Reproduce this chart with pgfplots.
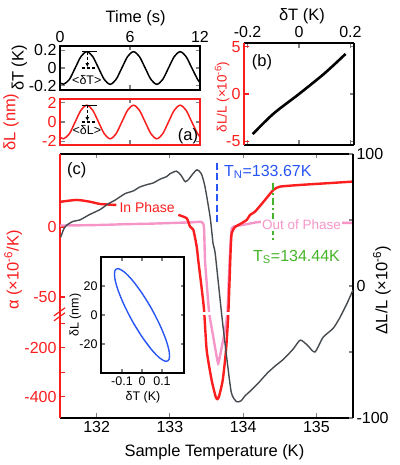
\documentclass[border=0pt]{standalone}
\usepackage{pgfplots}
\pgfplotsset{compat=1.18}
\usepackage{fontspec}
\setmainfont{Liberation Sans}
\usetikzlibrary{arrows.meta}

\definecolor{cred}{RGB}{250,30,30}
\definecolor{cpink}{RGB}{246,150,200}
\definecolor{cgray}{RGB}{70,75,80}
\definecolor{cblue}{RGB}{40,85,245}
\definecolor{cgreen}{RGB}{70,180,40}

\pgfplotsset{
  base/.style={
    scale only axis, anchor=south west,
    axis line style={line width=1.5pt},
    tick style={line width=1.1pt},
    tick align=inside, major tick length=4.5pt,
    tick label style={font=\fontsize{16}{18}\selectfont},
    label style={font=\fontsize{16.5}{19}\selectfont},
    xlabel style={anchor=center},
    ylabel style={anchor=center},
  },
  % broken alpha axis: below -62 the scale is squeezed
  brk/.style={y filter/.expression={y>-62 ? y : -62+(y+62)*0.175}},
}

\begin{document}
\begin{tikzpicture}
\useasboundingbox (0pt,0pt) rectangle (399pt,465pt);

% ---------- (c) left axis: alpha ----------
\begin{axis}[base,
  at={(60pt,47pt)}, width=293pt, height=264pt,
  xmin=131.5, xmax=135.5, ymin=-136.4, ymax=52.1,
  axis y line*=left, clip=false,
  xtick={132,133,134,135}, xticklabels={132,133,134,135},
  ytick={-121.15,-103.65,-86.15,-68.65,-50,0},
  yticklabels={-400,,-200,,-50,0},
  y axis line style={cred}, ytick style={cred}, yticklabel style={cred},
  ylabel={α (×10\textsuperscript{-6}/K)},
  ylabel style={cred, at={(axis description cs:-0.16,0.56)}},
  xlabel={Sample Temperature (K)},
  xlabel style={at={(axis description cs:0.527,-0.129)}},
]
% out of phase
\addplot[cpink, line width=2.4pt, smooth, tension=0.35, brk] table {
131.50 1.0
131.80 1.2
132.10 1.5
132.40 2.0
132.70 2.3
133.00 2.8
133.30 3.3
133.43 3.6
133.465 0
133.48 -24
133.51 -45
133.538 -62
133.585 -144
133.65 -255
133.66 -261
133.67 -255
133.743 -144
133.784 -62
133.81 -30
133.83 -10
133.845 -1
133.89 0.5
134.00 1.5
134.23 3.6
134.60 3.0
135.00 3.0
135.42 2.9
135.50 2.9
};
% in phase, left part
\addplot[cred, line width=2.4pt, smooth, tension=0.4, brk] table {
131.51 18
131.73 19.3
131.91 18
132.05 16.4
132.27 15.7
};
% in phase, right part
\addplot[cred, line width=2.4pt, smooth, tension=0.35, brk] table {
133.115 8.6
133.23 6.2
133.275 0.2
133.32 -2
133.366 -14
133.388 -24
133.43 -42
133.466 -59
133.503 -212
133.571 -334
133.625 -400
133.647 -410
133.67 -400
133.721 -334
133.766 -212
133.798 -62
133.83 -16
133.844 -4.5
133.889 0
133.957 2
134.049 5
134.094 8.6
134.162 10.9
134.299 19.3
134.412 26.4
134.503 28.8
134.777 30
135.141 31.2
135.50 32.4
};
\fill[white] (axis cs:133.42,-60.8) rectangle (axis cs:133.86,-63.2);
\draw[cred, line width=1.2pt] (axis cs:131.5,-62) ++(-6pt,-7pt) -- ++(11pt,8pt);
\draw[cred, line width=1.2pt] (axis cs:131.5,-62) ++(-6pt,-2pt) -- ++(11pt,8pt);
\draw[draw=cblue, line width=2pt, dash pattern=on 7pt off 3.5pt]
  (axis cs:133.647,45.7) -- (axis cs:133.647,2.9);
\draw[draw=cgreen, line width=2pt, dash pattern=on 7pt off 3pt on 2pt off 3pt]
  (axis cs:134.404,31.4) -- (axis cs:134.404,-10.7);
\node[font=\fontsize{16.5}{19}\selectfont] at (axis cs:131.73,40.7) {(c)};
\node[cred, font=\fontsize{14}{16}\selectfont] at (axis cs:132.69,13.6) {In Phase};
\node[cpink, fill=white, inner sep=1.5pt, font=\fontsize{13.5}{15}\selectfont]
  at (axis cs:134.797,1.4) {Out of Phase};
\node[cblue, anchor=west, inner sep=0pt, font=\fontsize{16}{18}\selectfont]
  at (axis cs:133.739,39.3) {T\textsubscript{N}=133.67K};
\node[cgreen, anchor=west, inner sep=0pt, font=\fontsize{16}{18}\selectfont]
  at (axis cs:134.135,-21.4) {T\textsubscript{S}=134.44K};
\end{axis}

% ---------- (c) right axis: dL/L ----------
\begin{axis}[base,
  at={(60pt,47pt)}, width=293pt, height=264pt,
  xmin=131.5, xmax=135.5, ymin=-100, ymax=100,
  axis y line*=right, axis x line=none,
  ytick={-100,-50,0,50,100}, yticklabels={-100,,0,,100},
  ylabel={ΔL/L (×10\textsuperscript{-6})},
  ylabel style={at={(axis description cs:1.099,0.485)}},
]
\addplot[cgray, line width=1.4pt, smooth, tension=0.4] table {
131.51 37
131.55 43
131.59 46
131.68 49
131.77 50
131.90 54
132.05 58
132.15 62
132.25 65
132.39 70
132.50 72
132.59 75
132.70 77
132.77 78
132.87 81
132.96 83
133.00 85
133.09 87
133.15 84
133.21 79
133.26 81
133.30 84
133.37 88
133.43 85
133.48 75
133.55 52
133.59 32
133.62 24
133.71 -23
133.78 -56
133.84 -81
133.91 -87.6
133.97 -87
134.03 -83
134.09 -80
134.20 -74
134.33 -66
134.45 -60
134.54 -56
134.68 -48
134.78 -41
134.88 -45
134.98 -50
135.09 -39
135.23 -32
135.32 -24
135.42 -13
135.50 -3
};
\end{axis}

% ---------- inset ----------
\begin{axis}[base,
  at={(101pt,92pt)}, width=83pt, height=116pt,
  xmin=-0.205, xmax=0.21, ymin=-40, ymax=40,
  xtick={-0.1,0,0.1}, xticklabels={-0.1,0,0.1},
  ytick={-20,0,20}, yticklabels={-20,0,20},
  major tick length=3.5pt,
  tick label style={font=\fontsize{12.5}{14}\selectfont},
  label style={font=\fontsize{12.5}{14}\selectfont},
  xlabel={δT (K)}, xlabel style={at={(axis description cs:0.506,-0.207)}},
  ylabel={δL (nm)}, ylabel style={at={(axis description cs:-0.31,0.5)}},
  axis background/.style={fill=white},
]
\addplot[cblue, line width=1.4pt, smooth] table {
-0.0472 -4.5
0 -15.0
0.0472 -23.8
0.0887 -29.7
0.1195 -32.0
0.1359 -30.4
0.1359 -25.2
0.1195 -17.0
0.0887 -6.7
0.0472 4.5
0 15.0
-0.0472 23.8
-0.0887 29.7
-0.1195 32.0
-0.1359 30.4
-0.1359 25.2
-0.1195 17.0
-0.0887 6.7
-0.0472 -4.5
0 -15.0
0.0472 -23.8
};
\end{axis}

% ---------- (a) top: dT ----------
\begin{axis}[base,
  at={(60pt,375pt)}, width=140pt, height=44pt,
  xmin=0, xmax=12, ymin=-0.25, ymax=0.25,
  xtick={0,6,12}, xticklabels={0,6,12}, xticklabel pos=top,
  ytick={-0.2,0,0.2}, yticklabels={-0.2,0,0.2},
  xlabel={Time (s)}, xlabel style={at={(axis description cs:0.54,1.64)}},
  ylabel={δT (K)}, ylabel style={at={(axis description cs:-0.29,0.5)}},
]
\addplot[black, line width=1.5pt, smooth] table {
0 -0.165
0.3 -0.185
0.8 -0.131
1.3 0
1.8 0.131
2.3 0.185
2.8 0.131
3.3 0
3.8 -0.131
4.3 -0.185
4.8 -0.131
5.3 0
5.8 0.131
6.3 0.185
6.8 0.131
7.3 0
7.8 -0.131
8.3 -0.185
8.8 -0.131
9.3 0
9.8 0.131
10.3 0.185
10.8 0.131
11.3 0
11.8 -0.131
12 -0.165
};
\draw[line width=1.1pt] (axis cs:1.86,0.185) -- (axis cs:3.14,0.185);
\draw[line width=1.1pt, dash pattern=on 3pt off 2pt] (axis cs:1.86,0) -- (axis cs:3.14,0);
\draw[line width=1.1pt, dash pattern=on 3pt off 2pt, -{Latex[length=4pt,width=4pt]}]
  (axis cs:2.34,0.185) -- (axis cs:2.34,0.01);
\node[font=\fontsize{12.5}{14}\selectfont, inner sep=0pt] at (axis cs:2.3,-0.136) {<δT>};
\end{axis}

% ---------- (a) bottom: dL ----------
\begin{axis}[base,
  at={(60pt,320pt)}, width=140pt, height=46pt,
  xmin=0, xmax=12, ymin=-2.4, ymax=2.4,
  xtick={0,6,12}, xticklabels={},
  ytick={-2,0,2}, yticklabels={-2,0,2},
  axis line style={cred, line width=1.5pt},
  yticklabel style={cred},
  ylabel={δL (nm)}, ylabel style={cred, at={(axis description cs:-0.35,0.5)}},
]
\addplot[cred, line width=1.5pt, smooth] table {
0 -1.559
0.3 -1.75
0.8 -1.237
1.3 0
1.8 1.237
2.3 1.75
2.8 1.237
3.3 0
3.8 -1.237
4.3 -1.75
4.8 -1.237
5.3 0
5.8 1.237
6.3 1.75
6.8 1.237
7.3 0
7.8 -1.237
8.3 -1.75
8.8 -1.237
9.3 0
9.8 1.237
10.3 1.75
10.8 1.237
11.3 0
11.8 -1.237
12 -1.559
};
\draw[line width=1.1pt] (axis cs:1.86,1.75) -- (axis cs:3.14,1.75);
\draw[line width=1.1pt, dash pattern=on 3pt off 2pt] (axis cs:1.86,0) -- (axis cs:3.14,0);
\draw[line width=1.1pt, dash pattern=on 3pt off 2pt, -{Latex[length=4pt,width=4pt]}]
  (axis cs:2.34,1.75) -- (axis cs:2.34,0.1);
\node[font=\fontsize{12.5}{14}\selectfont, inner sep=0pt] at (axis cs:2.3,-0.85) {<δL>};
\node[font=\fontsize{16.5}{19}\selectfont] at (axis cs:10.97,-1.46) {(a)};
\end{axis}

% ---------- (b) ----------
\begin{axis}[base,
  at={(244pt,320pt)}, width=110pt, height=102pt,
  xmin=-0.214, xmax=0.214, ymin=-5.4, ymax=5.4,
  axis y line*=left,
  xtick={-0.2,0,0.2}, xticklabels={-0.2,0,0.2}, xticklabel pos=top,
  xticklabel style={yshift=2pt},
  ytick={-5,0,5}, yticklabels={-5,0,5},
  y axis line style={cred}, ytick style={cred},
  yticklabel style={cred, inner ysep=0pt},
  xlabel={δT (K)}, xlabel style={at={(axis description cs:0.527,1.265)}},
  ylabel={δL/L (×10\textsuperscript{-6})},
  ylabel style={cred, font=\fontsize{13.5}{15}\selectfont,
    at={(axis description cs:-0.2,0.47)}},
]
\addplot[black, line width=2.6pt, smooth] table {
-0.18 -4.24
-0.10 -2.1
0 0
0.10 2.2
0.181 4.24
};
\node[font=\fontsize{16.5}{19}\selectfont] at (axis cs:-0.144,3.4) {(b)};
\end{axis}
\begin{axis}[base,
  at={(244pt,320pt)}, width=110pt, height=102pt,
  xmin=-0.214, xmax=0.214, ymin=-5.4, ymax=5.4,
  axis y line*=right, axis x line=none,
  ytick={-5,0,5}, yticklabels={},
]
\end{axis}

\end{tikzpicture}
\end{document}
